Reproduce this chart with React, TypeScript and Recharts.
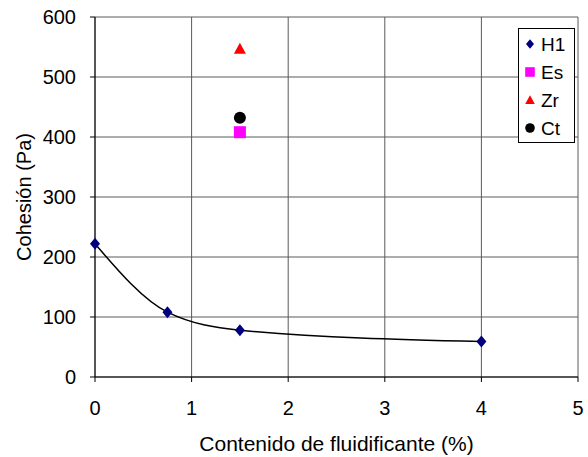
import React from "react";
import {
  ComposedChart,
  Scatter,
  Line,
  XAxis,
  YAxis,
  CartesianGrid,
} from "recharts";

// fluidificante content (%) and cohesion (Pa)
const h1X = [0, 0.75, 1.5, 4];
const h1Y = [222, 108, 78, 59];
const esPoint = { x: 1.5, y: 408 };
const zrPoint = { x: 1.5, y: 547 };
const ctPoint = { x: 1.5, y: 432 };

const xTicks = [0, 1, 2, 3, 4, 5];
const yTicks = [0, 100, 200, 300, 400, 500, 600];

const h1Data = h1X.map((x, i) => ({ x, y: h1Y[i] }));

const FONT = "Liberation Sans, Arial, sans-serif";

const Diamond = ({ cx, cy, fill }: any) => (
  <polygon
    points={`${cx},${cy - 6} ${cx + 5},${cy} ${cx},${cy + 6} ${cx - 5},${cy}`}
    fill={fill}
  />
);
const Square = ({ cx, cy, fill }: any) => (
  <rect x={cx - 6} y={cy - 6} width={12} height={12} fill={fill} />
);
const Triangle = ({ cx, cy, fill }: any) => (
  <polygon
    points={`${cx},${cy - 6} ${cx + 6},${cy + 5} ${cx - 6},${cy + 5}`}
    fill={fill}
  />
);
const Circle = ({ cx, cy, fill }: any) => <circle cx={cx} cy={cy} r={6} fill={fill} />;

const legendItems = [
  { name: "H1", color: "#000080", Shape: Diamond },
  { name: "Es", color: "#FF00FF", Shape: Square },
  { name: "Zr", color: "#FF0000", Shape: Triangle },
  { name: "Ct", color: "#000000", Shape: Circle },
];

const LegendBox = () => (
  <svg width={57} height={115} style={{ display: "block" }}>
    <rect x={0.5} y={0.5} width={56} height={114} fill="#fff" stroke="#000" />
    {legendItems.map((it, i) => {
      const cy = 16 + i * 28;
      return (
        <g key={it.name}>
          <g transform={`translate(12 ${cy}) scale(0.8) translate(-12 ${-cy})`}>
            <it.Shape cx={12} cy={cy} fill={it.color} />
          </g>
          <text x={23} y={cy + 7} fontSize={19} fontFamily={FONT} fill="#000">
            {it.name}
          </text>
        </g>
      );
    })}
  </svg>
);

export default function App() {
  return (
    <div style={{ position: "absolute", left: 0, top: 0, width: 588, height: 457, background: "#fff" }}>
      <ComposedChart
        width={588}
        height={457}
        margin={{ top: 17, right: 10, bottom: 0, left: 0 }}
      >
        <CartesianGrid stroke="#5a5a5a" strokeWidth={1} />
        <XAxis
          dataKey="x"
          type="number"
          domain={[0, 5]}
          ticks={xTicks}
          height={80}
          stroke="#000"
          tickSize={5}
          tickMargin={19}
          tick={{ fill: "#000", fontSize: 20, fontFamily: FONT }}
          label={{
            value: "Contenido de fluidificante (%)",
            position: "insideBottom",
            offset: 6,
            fill: "#000",
            fontSize: 21,
            fontFamily: FONT,
          }}
        />
        <YAxis
          type="number"
          domain={[0, 600]}
          ticks={yTicks}
          width={95}
          stroke="#000"
          tickSize={5}
          tickMargin={14}
          tick={{ fill: "#000", fontSize: 20, fontFamily: FONT }}
          label={{
            value: "Cohesión (Pa)",
            angle: -90,
            position: "insideLeft",
            offset: 24,
            style: { textAnchor: "middle" },
            fill: "#000",
            fontSize: 20,
            fontFamily: FONT,
          }}
        />
        <Line
          data={h1Data}
          dataKey="y"
          type="monotone"
          stroke="#000"
          strokeWidth={1.5}
          dot={false}
          isAnimationActive={false}
          legendType="none"
        />
        <Scatter name="H1" data={h1Data} dataKey="y" fill="#000080" shape={Diamond} isAnimationActive={false} />
        <Scatter name="Es" data={[esPoint]} dataKey="y" fill="#FF00FF" shape={Square} isAnimationActive={false} />
        <Scatter name="Zr" data={[zrPoint]} dataKey="y" fill="#FF0000" shape={Triangle} isAnimationActive={false} />
        <Scatter name="Ct" data={[ctPoint]} dataKey="y" fill="#000000" shape={Circle} isAnimationActive={false} />
      </ComposedChart>
      <div style={{ position: "absolute", left: 518, top: 28 }}>
        <LegendBox />
      </div>
    </div>
  );
}
